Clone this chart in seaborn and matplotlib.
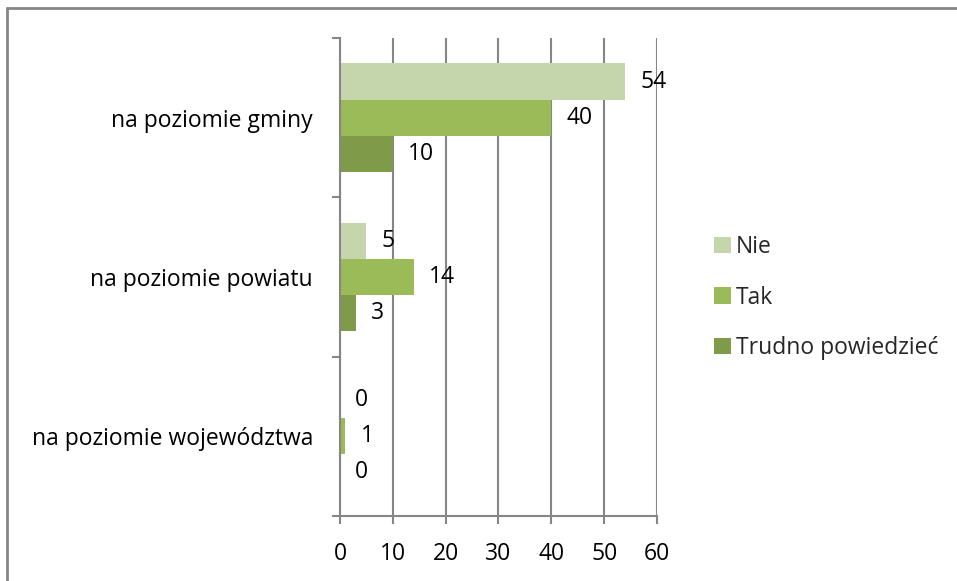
import matplotlib
matplotlib.use("Agg")
import matplotlib.pyplot as plt
import seaborn as sns
import pandas as pd
from matplotlib.lines import Line2D
from matplotlib.patches import Patch

categories = ["na poziomie gminy", "na poziomie powiatu", "na poziomie województwa"]
series = ["Nie", "Tak", "Trudno powiedzieć"]
nie = [54, 5, 0]
tak = [40, 14, 1]
trudno = [10, 3, 0]
x_ticks = [0, 10, 20, 30, 40, 50, 60]
colors = ["#C6D6AC", "#9BBB59", "#7F9A48"]

rows = []
for s, vals in zip(series, [nie, tak, trudno]):
    for c, v in zip(categories, vals):
        rows.append({"kategoria": c, "seria": s, "wartosc": v})
df = pd.DataFrame(rows)

sns.set_theme(style="white")
plt.rcParams['font.family'] = ['Open Sans', 'DejaVu Sans']

FS = 16.5
fig = plt.figure(figsize=(9.57, 5.81), dpi=100)
ax = fig.add_axes([340/957, 1-516/581, (657-340)/957, (516-38)/581])

sns.barplot(data=df, y="kategoria", x="wartosc", hue="seria", order=categories,
            hue_order=series, palette=colors, orient="h", width=0.68,
            saturation=1, ax=ax, legend=False, edgecolor="none", linewidth=0)

ax.set_xlim(0, 60)
ax.set_ylim(2.5, -0.5)
ax.set_xticks(x_ticks)
ax.set_xticklabels([str(t) for t in x_ticks], fontsize=FS, color="black")
ax.xaxis.grid(True, color="#868686", linewidth=1.5)
ax.set_axisbelow(True)
ax.set_xlabel("")
ax.set_ylabel("")

ax.set_yticks([0, 1, 2])
ax.set_yticklabels(categories, fontsize=FS, color="black")
ax.set_yticks([-0.5, 0.5, 1.5, 2.5], minor=True)
ax.tick_params(axis="y", which="major", length=0, pad=19.5)
ax.tick_params(axis="y", which="minor", length=6, width=1.5, color="#868686", left=True)
ax.tick_params(axis="x", which="major", length=6, width=1.5, color="#868686", bottom=True, pad=12.5)

for sp in ["top", "right"]:
    ax.spines[sp].set_visible(False)
for sp in ["left", "bottom"]:
    ax.spines[sp].set_color("#868686")
    ax.spines[sp].set_linewidth(1.5)

for cont in ax.containers:
    ax.bar_label(cont, labels=[f"{int(v)}" for v in cont.datavalues],
                 padding=11, fontsize=FS, color="black")

handles = [Patch(facecolor=c, edgecolor="none") for c in colors]
fig.legend(handles, series, loc="upper left", bbox_to_anchor=(705/957, 1-226/581),
           frameon=False, fontsize=FS, handlelength=0.72, handleheight=0.72,
           handletextpad=0.22, labelspacing=1.15, borderaxespad=0)

fig.add_artist(Line2D([7/957, 7/957], [0, 1-8/581], transform=fig.transFigure,
                      color="#868686", linewidth=2))
fig.add_artist(Line2D([7/957, 1], [1-8/581, 1-8/581], transform=fig.transFigure,
                      color="#868686", linewidth=2))

fig.savefig("out.png", dpi=100, facecolor="white")
